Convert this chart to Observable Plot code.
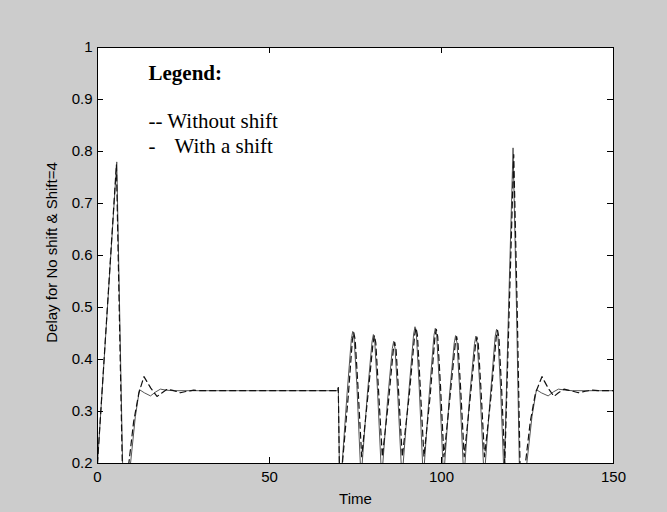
<!DOCTYPE html>
<html><head><meta charset="utf-8">
<script src="https://cdn.jsdelivr.net/npm/d3@7"></script>
<script src="https://cdn.jsdelivr.net/npm/@observablehq/plot@0.6"></script>
<style>html,body{margin:0;padding:0;background:#cccccc;}</style>
</head><body><div id="chart"></div>
<script>
// ---- data ----
const xTicks = [0, 50, 100, 150];
const yTicks = [0.2, 0.3, 0.4, 0.5, 0.6, 0.7, 0.8, 0.9, 1];
const xLabel = "Time";
const yLabel = "Delay for No shift & Shift=4";
const legendTitle = "Legend:";
const legendDashLabel = "-- Without shift";
const legendSolidMark = "-";
const legendSolidLabel = "With a shift";

// "With a shift" (solid line)
const withTime = [0, 5.6, 7.3, 8.3, 9.6, 11, 12.2, 13.6, 15.4, 17, 18.3, 20, 22, 69.8, 70.0, 70.3, 70.8,
  72.5, 73.8, 74.2, 74.6, 75.4, 76.6, 78.4, 79.8, 80.2, 80.6, 81.4, 82.6, 84.3, 85.7, 86.1, 86.5, 87.3, 88.5, 90.4, 91.9, 92.3, 92.7, 93.5, 94.7,
  96.4, 97.8, 98.2, 98.6, 99.4, 100.6, 102.3, 103.7, 104.1, 104.5, 105.3, 106.5, 108.2, 109.6, 110.0, 110.4, 111.2, 112.4, 114.2, 115.6, 116.0, 116.4, 117.2, 118.2,
  119.5, 120.8, 121.8, 122.7, 123.5, 124.8, 126.3, 127.6, 129.0, 131.0, 132.6, 134.0, 136, 138, 150];
const withDelay = [0.2, 0.78, 0.2, 0.12, 0.2, 0.29, 0.342, 0.336, 0.330, 0.338, 0.343, 0.341, 0.340, 0.340, 0.346, 0.2, 0.17,
  0.33, 0.44, 0.454, 0.44, 0.35, 0.17, 0.33, 0.434, 0.448, 0.434, 0.34, 0.17, 0.32, 0.421, 0.435, 0.421, 0.33, 0.17, 0.33, 0.449, 0.463, 0.449, 0.35, 0.17,
  0.33, 0.446, 0.460, 0.446, 0.35, 0.17, 0.33, 0.432, 0.446, 0.432, 0.34, 0.17, 0.33, 0.431, 0.445, 0.431, 0.34, 0.17, 0.33, 0.444, 0.458, 0.444, 0.34, 0.17,
  0.5, 0.807, 0.5, 0.17, 0.10, 0.2, 0.29, 0.342, 0.336, 0.330, 0.338, 0.343, 0.341, 0.340, 0.340];

// "Without shift" (dashed line)
const withoutTime = [0, 5.5, 7.2, 8.2, 9.1, 10.5, 12, 13.5, 15.5, 17.3, 18.8, 20.3, 22.2, 24.1, 26, 28, 30, 69.8, 70.0, 70.3, 70.8,
  72.9, 74.1, 74.5, 74.9, 75.7, 76.8, 78.6, 80.1, 80.5, 80.9, 81.7, 82.8, 84.6, 86.0, 86.4, 86.8, 87.6, 88.6, 90.6, 92.2, 92.6, 93.0, 93.8, 94.9,
  96.7, 98.1, 98.5, 98.9, 99.7, 100.7, 102.5, 104.0, 104.4, 104.8, 105.6, 106.6, 108.4, 109.9, 110.3, 110.7, 111.5, 112.5, 114.4, 115.9, 116.3, 116.7, 117.5, 118.4,
  119.7, 121.0, 122.0, 122.9, 123.6, 124.4, 125.8, 127.3, 129.2, 131.0, 132.7, 134.0, 135.6, 137.6, 139.8, 141.8, 143.8, 145.5, 150];
const withoutDelay = [0.2, 0.775, 0.2, 0.12, 0.2, 0.28, 0.335, 0.367, 0.345, 0.329, 0.336, 0.343, 0.340, 0.336, 0.339, 0.341, 0.340, 0.340, 0.346, 0.2, 0.17,
  0.33, 0.438, 0.452, 0.438, 0.35, 0.213, 0.33, 0.432, 0.446, 0.432, 0.34, 0.213, 0.32, 0.419, 0.433, 0.419, 0.33, 0.213, 0.33, 0.447, 0.461, 0.447, 0.35, 0.213,
  0.33, 0.444, 0.458, 0.444, 0.35, 0.213, 0.33, 0.430, 0.444, 0.430, 0.34, 0.213, 0.33, 0.429, 0.443, 0.429, 0.34, 0.213, 0.33, 0.442, 0.456, 0.442, 0.34, 0.2,
  0.5, 0.794, 0.5, 0.17, 0.10, 0.2, 0.28, 0.335, 0.367, 0.345, 0.329, 0.336, 0.343, 0.340, 0.336, 0.339, 0.341, 0.340, 0.340];

const withData = withTime.map((t, i) => ({t, v: withDelay[i]}));
const withoutData = withoutTime.map((t, i) => ({t, v: withoutDelay[i]}));

const fmtY = d => String(+d.toFixed(1));
const sans = "'Liberation Sans', Arial, Helvetica, sans-serif";
const serif = "'Liberation Serif', 'Times New Roman', serif";
const W = 667, H = 512, ML = 97, MR = 54, MT = 47, MB = 49, TICK = 6;
const frameW = W - ML - MR, frameH = H - MT - MB;

const chart = Plot.plot({
  width: W, height: H,
  marginLeft: ML, marginRight: MR, marginTop: MT, marginBottom: MB,
  style: {background: "#cccccc", fontFamily: sans, fontSize: "15px", color: "#000", overflow: "visible"},
  x: {domain: [0, 150], label: null},
  y: {domain: [0.2, 1], label: null},
  marks: [
    Plot.frame({fill: "white", stroke: null}),
    Plot.line(withData, {x: "t", y: "v", stroke: "#555", strokeWidth: 1, clip: true}),
    Plot.line(withoutData, {x: "t", y: "v", stroke: "#111", strokeWidth: 1.2, strokeDasharray: "6,4", clip: true}),
    // tick labels
    Plot.axisX(xTicks, {anchor: "bottom", tickSize: 0, tickPadding: 8, label: null, fontSize: 15}),
    Plot.axisY(yTicks, {anchor: "left", tickSize: 0, tickPadding: 5, tickFormat: fmtY, label: null, fontSize: 15}),
    // inward ticks on all four sides
    Plot.tickX(xTicks, {x: d => d, insetTop: frameH - TICK, stroke: "#000"}),
    Plot.tickX(xTicks, {x: d => d, insetBottom: frameH - TICK, stroke: "#000"}),
    Plot.tickY(yTicks, {y: d => d, insetRight: frameW - TICK, stroke: "#000"}),
    Plot.tickY(yTicks, {y: d => d, insetLeft: frameW - TICK, stroke: "#000"}),
    // axis titles
    Plot.text([xLabel], {frameAnchor: "bottom", dy: 40, lineAnchor: "bottom", textAnchor: "middle", fontSize: 15, fill: "#000"}),
    Plot.text([yLabel], {frameAnchor: "left", dx: -41, dy: -3, rotate: -90, lineAnchor: "bottom", textAnchor: "middle", fontSize: 15, fill: "#000"}),
    // legend annotation (text inside the axes)
    Plot.text([legendTitle], {frameAnchor: "top-left", dx: 51, dy: 32, lineAnchor: "bottom", textAnchor: "start", fontFamily: serif, fontWeight: "bold", fontSize: 21, fill: "#000"}),
    Plot.text([legendDashLabel], {frameAnchor: "top-left", dx: 51, dy: 80, lineAnchor: "bottom", textAnchor: "start", fontFamily: serif, fontSize: 21, fill: "#000"}),
    Plot.text([legendSolidMark], {frameAnchor: "top-left", dx: 51, dy: 105, lineAnchor: "bottom", textAnchor: "start", fontFamily: serif, fontSize: 21, fill: "#000"}),
    Plot.text([legendSolidLabel], {frameAnchor: "top-left", dx: 77, dy: 105, lineAnchor: "bottom", textAnchor: "start", fontFamily: serif, fontSize: 21, fill: "#000"}),
    Plot.frame({stroke: "#000", strokeWidth: 1})
  ]
});
document.getElementById("chart").appendChild(chart);
</script>
</body></html>
